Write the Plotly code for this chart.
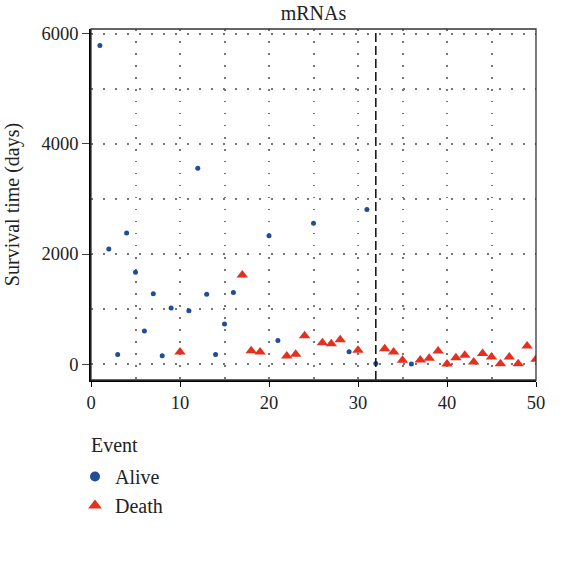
import plotly.graph_objects as go

# Survival time per sample, ordered by risk score rank
sample_rank = list(range(1, 51))
survival_days = [5790, 2090, 175, 2380, 1670, 600, 1280, 150, 1020, 220,
                 970, 3560, 1270, 175, 730, 1300, 1620, 240, 220, 2330,
                 430, 145, 180, 515, 2560, 385, 370, 440, 225, 250,
                 2810, 10, 280, 220, 70, 0, 75, 105, 235, 0,
                 115, 160, 35, 190, 130, 5, 130, 5, 330, 85]
status = (["Alive"] * 9 + ["Death"] + ["Alive"] * 6 + ["Death"] * 3 +
          ["Alive"] * 2 + ["Death"] * 3 + ["Alive"] + ["Death"] * 3 +
          ["Alive"] + ["Death"] + ["Alive"] * 2 + ["Death"] * 3 +
          ["Alive"] + ["Death"] * 14)
cutoff_rank = 32

event_levels = ["Alive", "Death"]
colors = {"Alive": "#1F4E96", "Death": "#E3301F"}
symbols = {"Alive": "circle", "Death": "triangle-up"}
point_size = {"Alive": 5, "Death": 10}
legend_size = {"Alive": 10, "Death": 12}

FONT = "Liberation Serif"
TXT = "#222222"
fig = go.Figure()

for lvl in event_levels:
    xs = [r for r, s in zip(sample_rank, status) if s == lvl]
    ys = [d for d, s in zip(survival_days, status) if s == lvl]
    fig.add_trace(go.Scatter(
        x=xs, y=ys, mode="markers", name=lvl, showlegend=False,
        marker=dict(color=colors[lvl], symbol=symbols[lvl],
                    size=point_size[lvl], line=dict(width=0)),
        cliponaxis=True,
    ))

# legend keys drawn larger than the plotted points
for lvl in event_levels:
    fig.add_trace(go.Scatter(
        x=[None], y=[None], mode="markers", name=lvl,
        marker=dict(color=colors[lvl], symbol=symbols[lvl],
                    size=legend_size[lvl], line=dict(width=0)),
    ))

# risk cutoff
fig.add_vline(x=cutoff_rank, line=dict(color="#1a1a1a", width=1.6, dash="9px,4px"))

grid_common = dict(gridcolor="#777777", gridwidth=1.5, griddash="1.5px,10.5px")

fig.update_xaxes(
    range=[0, 50], tickmode="array", tickvals=[0, 10, 20, 30, 40, 50],
    showgrid=True, **grid_common,
    minor=dict(dtick=5, tick0=0, showgrid=True, **grid_common),
    showline=True, linecolor="black", linewidth=1.5,
    ticks="outside", ticklen=5, tickcolor="black", tickwidth=1.3,
    zeroline=False, tickfont=dict(family=FONT, size=18.5, color=TXT),
)
fig.update_yaxes(
    range=[-290, 6090], tickmode="array", tickvals=[0, 2000, 4000, 6000],
    showgrid=True, **grid_common,
    minor=dict(dtick=1000, tick0=0, showgrid=True, **grid_common),
    showline=True, linecolor="black", linewidth=1.5,
    ticks="outside", ticklen=7, tickcolor="#444444", tickwidth=1.3,
    zeroline=False, tickfont=dict(family=FONT, size=18.5, color=TXT),
    title=dict(text="Survival time (days)", font=dict(family=FONT, size=20, color=TXT),
               standoff=17),
)

# outer frame
fig.add_shape(type="rect", xref="paper", yref="paper", x0=0, x1=1, y0=0, y1=1,
              line=dict(color="#333333", width=1.3), layer="above")

# legend heading, aligned with the legend keys
fig.add_annotation(text="Event", xref="paper", yref="paper",
                   x=(89 - 91) / 445, y=(380 - 445) / 351,
                   xanchor="left", yanchor="middle", showarrow=False,
                   font=dict(family=FONT, size=20, color=TXT))

fig.update_layout(
    width=582, height=562,
    margin=dict(l=91, r=46, t=29, b=182, autoexpand=False),
    paper_bgcolor="white", plot_bgcolor="white",
    title=dict(text="mRNAs", x=0.5, xref="paper", xanchor="center",
               y=1 - 13 / 562, yanchor="middle",
               font=dict(family=FONT, size=20, color=TXT)),
    legend=dict(
        title=dict(text=" ", font=dict(family=FONT, size=20, color=TXT)),
        font=dict(family=FONT, size=20, color=TXT),
        x=(75 - 91) / 445, xref="paper", xanchor="left",
        y=(380 - 431) / 351, yref="paper", yanchor="top",
        bgcolor="rgba(0,0,0,0)", tracegroupgap=0,
    ),
    showlegend=True,
)

fig.write_html("out.html")
